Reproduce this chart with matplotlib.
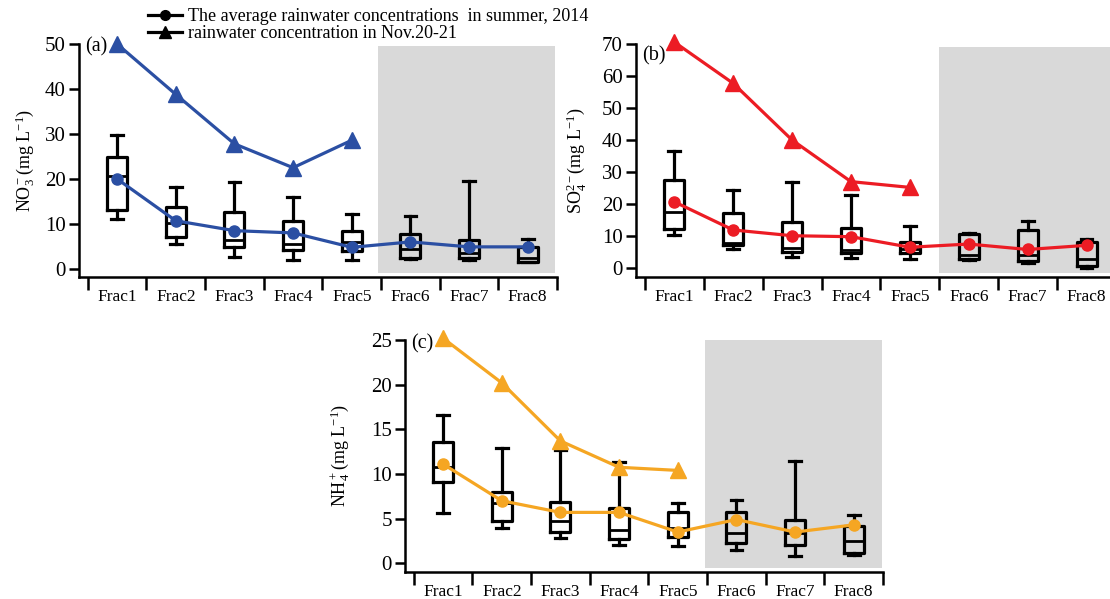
import numpy as np
import matplotlib
matplotlib.use('Agg')
import matplotlib.pyplot as plt
from matplotlib.patches import Rectangle
from matplotlib.lines import Line2D

plt.rcParams['font.family'] = ['Liberation Serif', 'DejaVu Serif']
plt.rcParams['mathtext.fontset'] = 'custom'
plt.rcParams['mathtext.rm'] = 'Liberation Serif'
plt.rcParams['mathtext.it'] = 'Liberation Serif:italic'
plt.rcParams['font.size'] = 13

fracs = ['Frac1', 'Frac2', 'Frac3', 'Frac4', 'Frac5', 'Frac6', 'Frac7', 'Frac8']
legend_labels = ['The average rainwater concentrations  in summer, 2014',
                 'rainwater concentration in Nov.20-21']

# (a) NO3-
no3_nov = [50.0, 38.8, 27.8, 22.5, 28.6]
no3_mean = [20.0, 10.7, 8.5, 8.0, 4.8, 6.0, 4.9, 4.9]
no3_lo = [11.1, 5.5, 2.7, 2.0, 2.0, 2.2, 2.0, 1.5]
no3_q1 = [13.1, 7.0, 4.8, 4.1, 3.9, 2.4, 2.4, 1.5]
no3_med = [20.7, 10.2, 6.4, 5.5, 5.9, 4.4, 3.5, 2.5]
no3_q3 = [24.9, 13.8, 12.6, 10.7, 8.4, 7.7, 6.4, 4.9]
no3_hi = [29.8, 18.3, 19.4, 15.9, 12.3, 11.8, 19.6, 6.6]

# (b) SO4 2-
so4_nov = [70.7, 57.8, 40.1, 27.1, 25.3]
so4_mean = [20.8, 12.0, 10.2, 9.9, 6.6, 7.6, 5.9, 7.2]
so4_lo = [10.4, 5.9, 3.6, 3.1, 2.8, 2.5, 1.6, 0.0]
so4_q1 = [12.2, 7.3, 5.2, 4.7, 4.7, 2.8, 2.4, 0.7]
so4_med = [17.7, 8.0, 6.4, 5.7, 6.2, 4.2, 4.2, 2.8]
so4_q3 = [27.6, 17.2, 14.6, 12.5, 8.1, 10.8, 12.0, 8.1]
so4_hi = [36.8, 24.5, 26.9, 22.9, 13.3, 11.2, 14.9, 9.2]

# (c) NH4+
nh4_nov = [25.2, 20.2, 13.7, 10.75, 10.4]
nh4_mean = [11.1, 7.0, 5.7, 5.7, 3.5, 4.9, 3.5, 4.3]
nh4_lo = [5.6, 4.0, 2.8, 2.1, 1.9, 1.5, 0.85, 0.9]
nh4_q1 = [9.1, 4.7, 3.5, 2.7, 2.9, 2.3, 2.0, 1.2]
nh4_med = [10.8, 6.8, 4.7, 3.7, 3.9, 3.4, 3.4, 2.5]
nh4_q3 = [13.6, 8.0, 6.9, 6.2, 5.7, 5.7, 4.8, 4.2]
nh4_hi = [16.6, 12.9, 12.7, 11.3, 6.8, 7.1, 11.4, 5.4]


def draw_panel(ax, nov, mean, lo, q1, med, q3, hi, color, ylim, yticks,
               ylabel, tag, tag_y, lab_x, shade_x, shade_y):
    pos = np.arange(1, len(fracs) + 1)
    ax.add_patch(Rectangle((shade_x[0], shade_y[0]), shade_x[1] - shade_x[0],
                           shade_y[1] - shade_y[0], facecolor='#d9d9d9',
                           edgecolor='none', zorder=0, clip_on=False))
    stats = [dict(whislo=a, q1=b, med=c, q3=d, whishi=e, fliers=[])
             for a, b, c, d, e in zip(lo, q1, med, q3, hi)]
    lp = dict(color='k', lw=2.3)
    ax.bxp(stats, positions=pos, widths=0.34, capwidths=0.2, showfliers=False,
           boxprops=lp, whiskerprops=lp, capprops=lp,
           medianprops=dict(color='k', lw=2.0), manage_ticks=False, zorder=2)
    ax.plot(pos, mean, '-o', color=color, lw=2.3, ms=8, zorder=3, clip_on=False)
    ax.plot(pos[:len(nov)], nov, '-^', color=color, lw=2.3, ms=11, zorder=3,
            clip_on=False)

    ax.set_xlim(0.35, 8.5)
    ax.set_ylim(*ylim)
    ax.set_yticks(yticks)
    ax.set_xticks(np.arange(0.5, 9.0, 1.0))
    ax.set_xticklabels([])
    ax.set_xticks(pos, minor=True)
    ax.set_xticklabels(fracs, minor=True, fontsize=12.5)
    ax.tick_params(axis='x', which='major', direction='out', length=9, width=1.8)
    ax.tick_params(axis='x', which='minor', length=0, pad=9)
    ax.tick_params(axis='y', direction='out', length=7.5, width=1.8, pad=2,
                   labelsize=15)
    for s in ['top', 'right']:
        ax.spines[s].set_visible(False)
    for s in ['left', 'bottom']:
        ax.spines[s].set_linewidth(1.8)
    ax.set_ylabel(ylabel, fontsize=13)
    ax.yaxis.set_label_coords(lab_x, 0.5)
    ax.text(0.013, tag_y, tag, transform=ax.transAxes, va='center', ha='left',
            fontsize=14.5)


fig = plt.figure(figsize=(11.1, 5.99), dpi=100)
ax_a = fig.add_axes([79 / 1110, 1 - 277 / 599, 478 / 1110, 233 / 599])
ax_b = fig.add_axes([636 / 1110, 1 - 276.7 / 599, 480 / 1110, 232.4 / 599])
ax_c = fig.add_axes([405 / 1110, 1 - 571.7 / 599, 478 / 1110, 231.7 / 599])

draw_panel(ax_a, no3_nov, no3_mean, no3_lo, no3_q1, no3_med, no3_q3, no3_hi,
           '#2b4fa3', (-1.8, 50), [0, 10, 20, 30, 40, 50],
           r'NO$_3^-$(mg L$^{-1}$)', '(a)', 0.987, -0.088,
           (5.45, 8.47), (-0.9, 49.5))
draw_panel(ax_b, so4_nov, so4_mean, so4_lo, so4_q1, so4_med, so4_q3, so4_hi,
           '#ec1c24', (-2.6, 70), [0, 10, 20, 30, 40, 50, 60, 70],
           r'SO$_4^{2-}$(mg L$^{-1}$)', '(b)', 0.95, -0.10,
           (5.5, 8.6), (-1.5, 69.2))
draw_panel(ax_c, nh4_nov, nh4_mean, nh4_lo, nh4_q1, nh4_med, nh4_q3, nh4_hi,
           '#f5a623', (-0.94, 25), [0, 5, 10, 15, 20, 25],
           r'NH$_4^+$(mg L$^{-1}$)', '(c)', 0.983, -0.111,
           (5.47, 8.48), (-0.56, 25.0))

handles = [Line2D([], [], color='k', lw=2.3, marker='o', ms=7),
           Line2D([], [], color='k', lw=2.3, marker='^', ms=9)]
fig.legend(handles, legend_labels, loc='upper left',
           bbox_to_anchor=(148 / 1110, 1 - 8 / 599), frameon=False,
           borderpad=0, borderaxespad=0, handlelength=1.9, handletextpad=0.3,
           labelspacing=0.0, fontsize=13)

fig.savefig('out.png', dpi=100)
